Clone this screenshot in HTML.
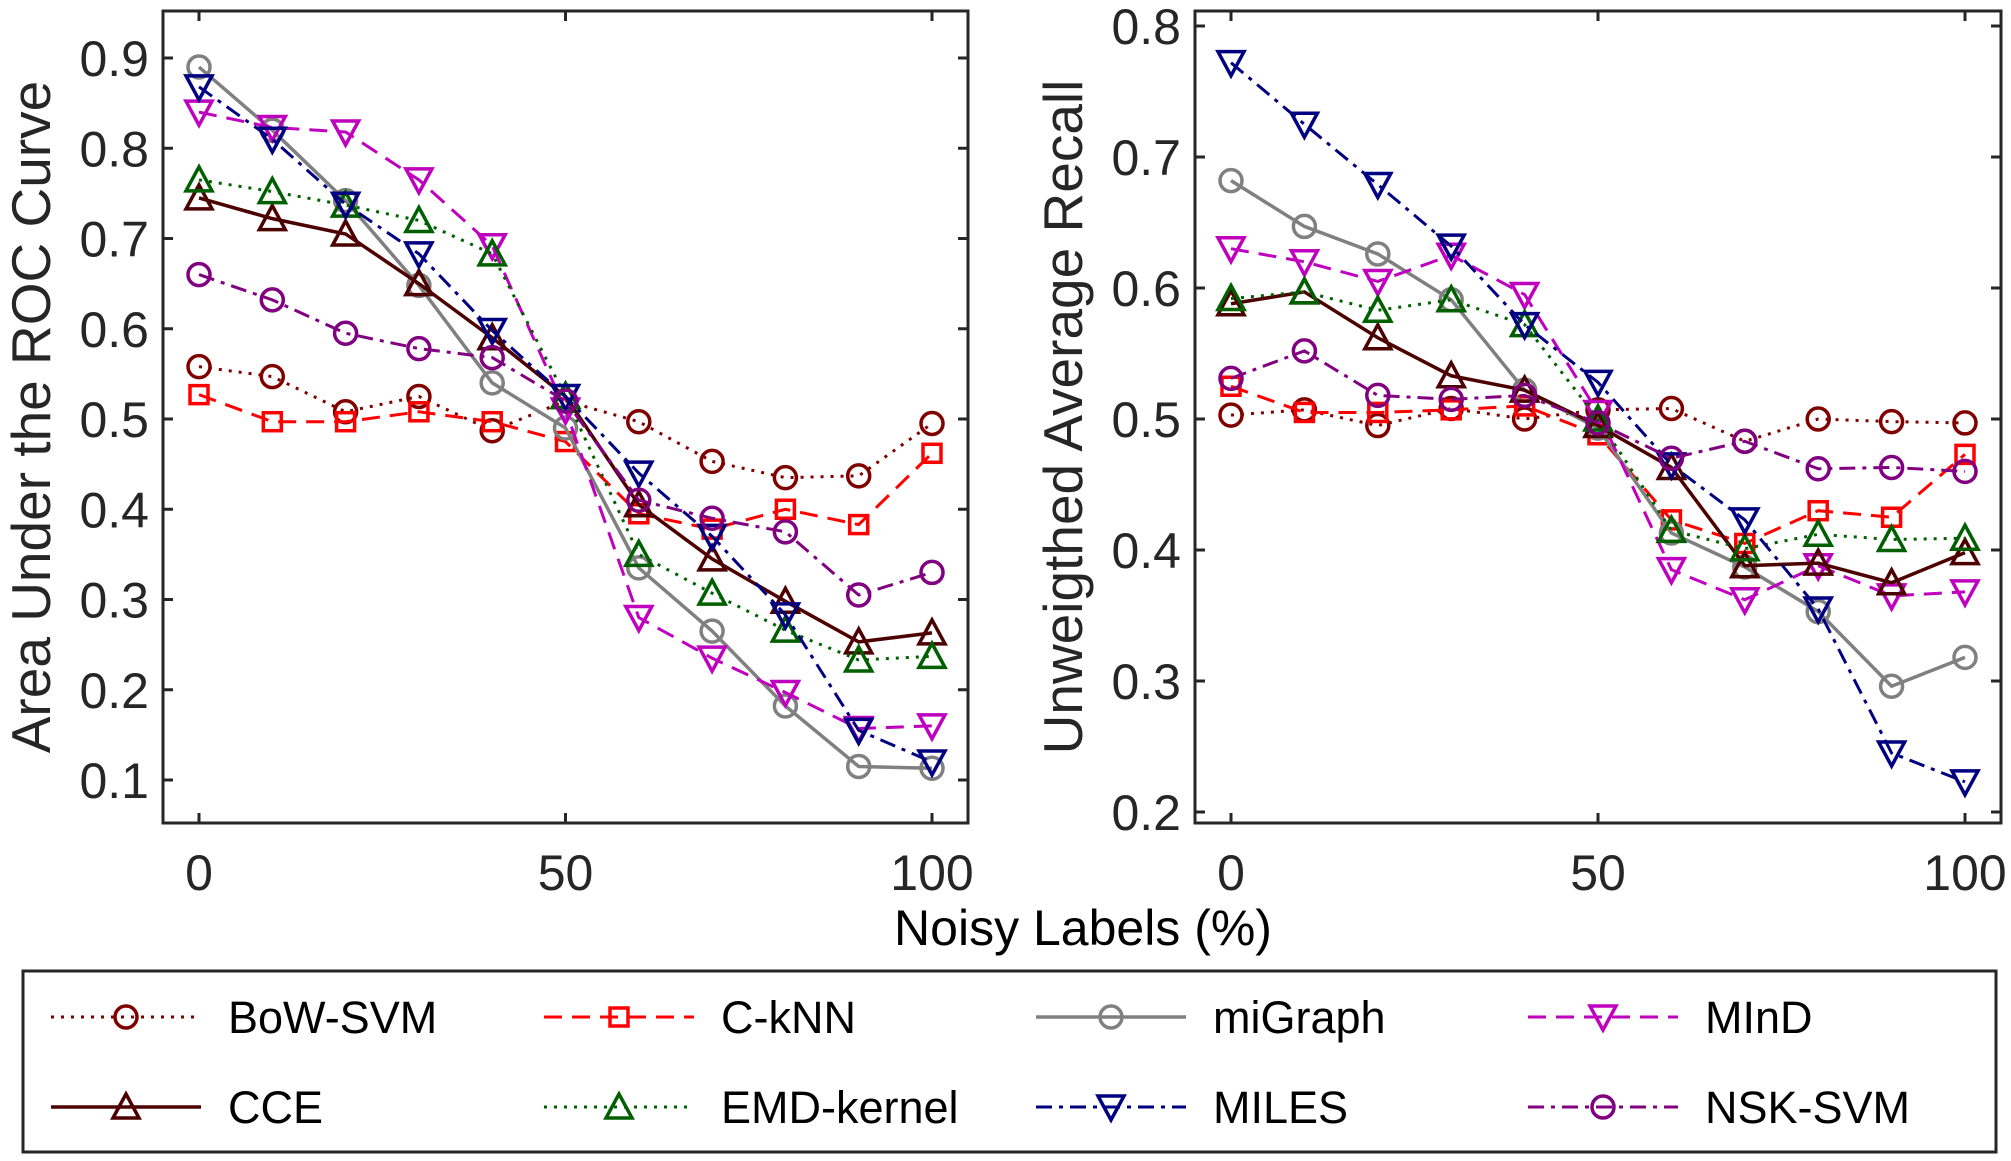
<!DOCTYPE html>
<html><head><meta charset="utf-8"><style>
html,body{margin:0;padding:0;background:#fff;}
svg{display:block;font-family:"Liberation Sans",Arial,sans-serif;}
</style></head><body>
<svg id="chart" width="2011" height="1161" viewBox="0 0 2011 1161" xmlns="http://www.w3.org/2000/svg"></svg>
<script>
const xVals = [0,10,20,30,40,50,60,70,80,90,100];
const xTicks = [0,50,100];
const aucTicks = [0.1,0.2,0.3,0.4,0.5,0.6,0.7,0.8,0.9];
const uarTicks = [0.2,0.3,0.4,0.5,0.6,0.7,0.8];
const seriesNames = ["BoW-SVM","C-kNN","miGraph","MInD","CCE","EMD-kernel","MILES","NSK-SVM"];
const aucBoW = [0.558,0.547,0.508,0.525,0.487,0.52,0.497,0.453,0.435,0.437,0.495];
const aucCkNN = [0.527,0.497,0.497,0.508,0.497,0.475,0.395,0.378,0.40,0.383,0.462];
const aucMiGraph = [0.89,0.82,0.742,0.648,0.54,0.49,0.335,0.265,0.182,0.115,0.113];
const aucMInD = [0.84,0.823,0.818,0.765,0.692,0.51,0.28,0.235,0.197,0.157,0.16];
const aucCCE = [0.745,0.722,0.705,0.65,0.59,0.525,0.405,0.345,0.298,0.253,0.263];
const aucEMD = [0.765,0.752,0.737,0.72,0.683,0.525,0.35,0.307,0.266,0.233,0.237];
const aucMILES = [0.868,0.81,0.738,0.683,0.598,0.525,0.44,0.37,0.283,0.155,0.12];
const aucNSK = [0.66,0.632,0.595,0.578,0.568,0.52,0.41,0.39,0.375,0.305,0.33];
const uarBoW = [0.503,0.507,0.495,0.508,0.50,0.507,0.508,0.483,0.50,0.498,0.497];
const uarCkNN = [0.525,0.505,0.505,0.507,0.51,0.488,0.423,0.405,0.43,0.425,0.473];
const uarMiGraph = [0.682,0.647,0.626,0.591,0.522,0.493,0.413,0.387,0.353,0.296,0.318];
const uarMInD = [0.63,0.62,0.605,0.625,0.595,0.505,0.385,0.362,0.388,0.365,0.368];
const uarCCE = [0.588,0.597,0.562,0.533,0.522,0.495,0.463,0.388,0.39,0.375,0.398];
const uarEMD = [0.592,0.597,0.583,0.591,0.572,0.5,0.415,0.401,0.412,0.408,0.409];
const uarMILES = [0.772,0.725,0.679,0.632,0.572,0.528,0.465,0.423,0.355,0.245,0.223];
const uarNSK = [0.531,0.552,0.518,0.515,0.518,0.497,0.47,0.483,0.462,0.463,0.46];

const styles = [
 {c:"#800000",d:"3 7",m:"circle",w:3},
 {c:"#ff0000",d:"18 10",m:"square",w:3},
 {c:"#808080",d:"",m:"circle",w:3.5},
 {c:"#bf00bf",d:"18 10",m:"down",w:3},
 {c:"#4d0000",d:"",m:"up",w:3.5},
 {c:"#006000",d:"3 7",m:"up",w:3},
 {c:"#000080",d:"16 7 4 7",m:"down",w:3},
 {c:"#800080",d:"16 7 4 7",m:"circle",w:3}
];
const NS="http://www.w3.org/2000/svg";
const svg=document.getElementById('chart');
function el(tag,attrs,parent){const e=document.createElementNS(NS,tag);for(const k in attrs)e.setAttribute(k,attrs[k]);(parent||svg).appendChild(e);return e;}
function marker(g,type,x,y,c){
  let e;
  if(type==="circle") e=el('circle',{cx:x,cy:y,r:11,fill:'none',stroke:c,'stroke-width':3.5},g);
  else if(type==="square") e=el('rect',{x:x-9,y:y-9,width:18,height:18,fill:'none',stroke:c,'stroke-width':3.5},g);
  else if(type==="up") e=el('polygon',{points:`${x},${y-13} ${x-13},${y+11} ${x+13},${y+11}`,fill:'none',stroke:c,'stroke-width':3.5},g);
  else e=el('polygon',{points:`${x},${y+13} ${x-13},${y-11} ${x+13},${y-11}`,fill:'none',stroke:c,'stroke-width':3.5},g);
  return e;
}
function panel(name,box,x0,x1,yLo,yHi,yPx0,yPx1,yticks,ylabel,ylabX,data){
  const g=el('g',{});
  
  
  const X=v=>x0+(v-0)/100*(x1-x0);
  const Y=v=>yPx0+(v-yLo)/(yHi-yLo)*(yPx1-yPx0);
  const fr=el('rect',{x:box[0],y:box[1],width:box[2]-box[0],height:box[3]-box[1],fill:'none',stroke:'#262626','stroke-width':3},g);
  
  
  xTicks.forEach(t=>{
    el('line',{x1:X(t),x2:X(t),y1:box[3],y2:box[3]-10,stroke:'#262626','stroke-width':3},g);
    el('line',{x1:X(t),x2:X(t),y1:box[1],y2:box[1]+10,stroke:'#262626','stroke-width':3},g);
    const tx=el('text',{x:X(t),y:box[3]+67,'text-anchor':'middle','font-size':50,fill:'#262626'},g);
    tx.textContent=t;
    
    
  });
  yticks.forEach(t=>{
    el('line',{x1:box[0],x2:box[0]+10,y1:Y(t),y2:Y(t),stroke:'#262626','stroke-width':3},g);
    el('line',{x1:box[2],x2:box[2]-10,y1:Y(t),y2:Y(t),stroke:'#262626','stroke-width':3},g);
    const tx=el('text',{x:box[0]-14,y:Y(t)+18,'text-anchor':'end','font-size':50,fill:'#262626'},g);
    tx.textContent=t.toFixed(1);
    
    
  });
  const yl=el('text',{x:0,y:0,'text-anchor':'middle','font-size':55,fill:'#262626',transform:`translate(${ylabX},${(box[1]+box[3])/2}) rotate(-90)`},g);
  yl.textContent=ylabel;
  
  
  data.forEach((arr,i)=>{
    const s=styles[i];
    const sg=el('g',{},g);
    
    
    const pts=arr.map((v,j)=>X(xVals[j])+','+Y(v)).join(' ');
    el('polyline',{points:pts,fill:'none',stroke:s.c,'stroke-width':s.w,'stroke-dasharray':s.d},sg);
    arr.forEach((v,j)=>{
      const m=marker(sg,s.m,X(xVals[j]),Y(v),s.c);
      
      
    });
  });
}
panel('auc-panel',[163,11,968,823],199,932,0.1,0.9,780,58,aucTicks,'Area Under the ROC Curve',50,
 [aucBoW,aucCkNN,aucMiGraph,aucMInD,aucCCE,aucEMD,aucMILES,aucNSK]);
panel('uar-panel',[1195,11,2001,823],1231,1965,0.2,0.8,812,26,uarTicks,'Unweigthed Average Recall',1082,
 [uarBoW,uarCkNN,uarMiGraph,uarMInD,uarCCE,uarEMD,uarMILES,uarNSK]);
const xl=el('text',{x:1083,y:945,'text-anchor':'middle','font-size':50,fill:'#000'});
xl.textContent='Noisy Labels (%)';


const lg=el('g',{});


el('rect',{x:23,y:971,width:1973,height:181,fill:'#fff',stroke:'#262626','stroke-width':3},lg);
const colX=[126,619,1111,1603];
const rowY=[1017,1107];
const order=[0,1,2,3,4,5,6,7];
order.forEach((si,k)=>{
  const col=k%4,row=Math.floor(k/4);
  const s=styles[si];
  const cx=colX[col],cy=rowY[row];
  const eg=el('g',{},lg);
  
  
  el('line',{x1:cx-75,x2:cx+75,y1:cy,y2:cy,stroke:s.c,'stroke-width':s.w,'stroke-dasharray':s.d},eg);
  marker(eg,s.m,cx,cy,s.c);
  const t=el('text',{x:cx+102,y:cy+16,'font-size':45,fill:'#000'},eg);
  t.textContent=seriesNames[si];
});
</script>
</body></html>
